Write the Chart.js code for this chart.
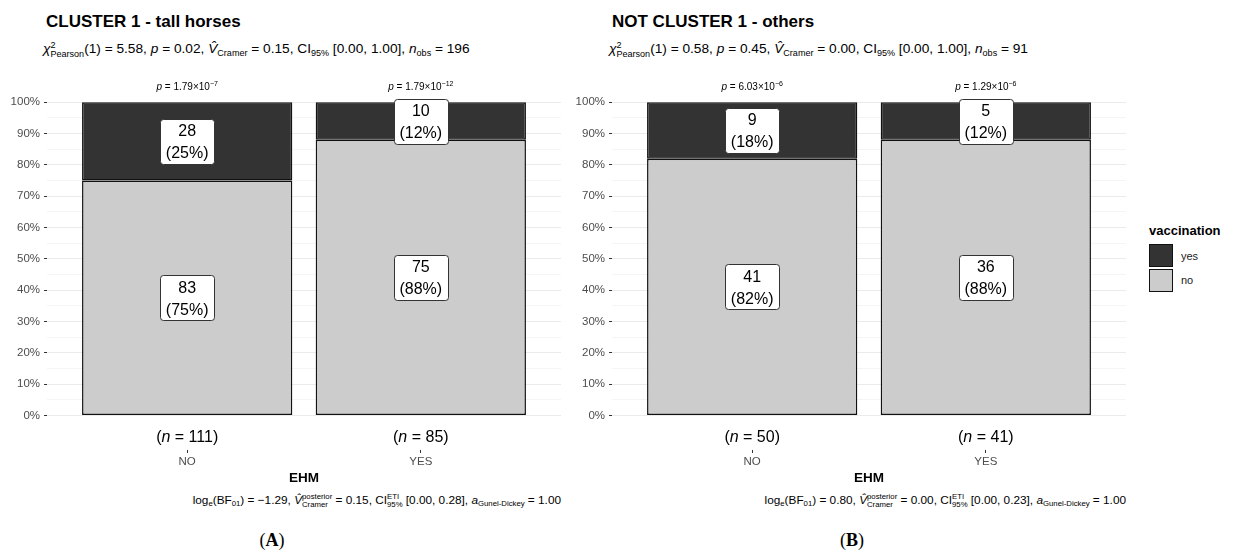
<!DOCTYPE html>
<html>
<head>
<meta charset="utf-8">
<title>Vaccination by EHM</title>
<script src="https://cdn.jsdelivr.net/npm/chart.js@4.4.1/dist/chart.umd.min.js"></script>
<style>
  html, body { margin: 0; padding: 0; background: #fff; }
  body { width: 1234px; height: 552px; position: relative; overflow: hidden;
         font-family: "Liberation Sans", Arial, sans-serif; color: #000; }
  .abs { position: absolute; white-space: nowrap; }
  canvas { position: absolute; }
  .title { font-weight: bold; font-size: 17px; line-height: 20px; }
  .subtitle { font-size: 13.7px; line-height: 16px; }
  .stack { display: inline-block; font-size: 0.66em; line-height: 0.95; vertical-align: -0.35em; text-align: left; }
  .stack span { display: block; }
  .sub { font-size: 0.66em; vertical-align: -0.3em; line-height: 0; }
  .xtitle { font-weight: bold; font-size: 13.5px; line-height: 16px; transform: translateX(-50%); }
  .caption { font-size: 11.8px; line-height: 14px; text-align: right; }
  .tag { font-family: "Liberation Serif", "DejaVu Serif", serif; font-size: 18px; line-height: 20px; transform: translateX(-50%); }
  .legtitle { font-weight: bold; font-size: 13px; line-height: 15px; }
  .legkey { position: absolute; width: 24px; height: 23px; box-sizing: border-box; border: 1.5px solid #111; }
  .leglab { font-size: 11px; line-height: 13px; color: #1a1a1a; }
  i { font-style: italic; }
</style>
</head>
<body>

<!-- Panel A headings -->
<div class="abs title" style="left:46px; top:12px;">CLUSTER 1 - tall horses</div>
<div class="abs subtitle" style="left:43px; top:41px;"><i>χ</i><span class="stack"><span>2</span><span>Pearson</span></span>(1) = 5.58, <i>p</i> = 0.02, <i>V̂</i><span class="sub">Cramer</span> = 0.15, CI<span class="sub">95%</span> [0.00, 1.00], <i>n</i><span class="sub">obs</span> = 196</div>

<!-- Panel B headings -->
<div class="abs title" style="left:612px; top:12px;">NOT CLUSTER 1 - others</div>
<div class="abs subtitle" style="left:609px; top:41px;"><i>χ</i><span class="stack"><span>2</span><span>Pearson</span></span>(1) = 0.58, <i>p</i> = 0.45, <i>V̂</i><span class="sub">Cramer</span> = 0.00, CI<span class="sub">95%</span> [0.00, 1.00], <i>n</i><span class="sub">obs</span> = 91</div>

<canvas id="panelA" width="580" height="420" style="left:0px; top:60px;"></canvas>
<canvas id="panelB" width="580" height="420" style="left:565px; top:60px;"></canvas>

<!-- Axis titles and Bayesian captions -->
<div class="abs xtitle" style="left:304px; top:470px;">EHM</div>
<div class="abs xtitle" style="left:869px; top:470px;">EHM</div>
<div class="abs caption" style="right:673px; top:493px;">log<span class="sub">e</span>(BF<span class="sub">01</span>) = −1.29, <i>V̂</i><span class="stack"><span>posterior</span><span>Cramer</span></span> = 0.15, CI<span class="stack"><span>ETI</span><span>95%</span></span> [0.00, 0.28], <i>a</i><span class="sub">Gunel-Dickey</span> = 1.00</div>
<div class="abs caption" style="right:108px; top:493px;">log<span class="sub">e</span>(BF<span class="sub">01</span>) = 0.80, <i>V̂</i><span class="stack"><span>posterior</span><span>Cramer</span></span> = 0.00, CI<span class="stack"><span>ETI</span><span>95%</span></span> [0.00, 0.23], <i>a</i><span class="sub">Gunel-Dickey</span> = 1.00</div>

<div class="abs tag" style="left:272px; top:530px;">(<b>A</b>)</div>
<div class="abs tag" style="left:852px; top:530px;">(<b>B</b>)</div>

<!-- Legend -->
<div class="abs legtitle" style="left:1149px; top:223px;">vaccination</div>
<div class="legkey" style="left:1149px; top:244px; background:#333333;"></div>
<div class="legkey" style="left:1149px; top:268.5px; background:#cccccc;"></div>
<div class="abs leglab" style="left:1181px; top:250px;">yes</div>
<div class="abs leglab" style="left:1181px; top:274px;">no</div>

<script>
// ---- data -------------------------------------------------------------
const categories = ['NO', 'YES'];
const yTickValues = [0, 10, 20, 30, 40, 50, 60, 70, 80, 90, 100];

// CLUSTER 1 - tall horses
const clusterNoPct = [75, 88];
const clusterYesPct = [25, 12];
const clusterNoCount = [83, 75];
const clusterYesCount = [28, 10];
const clusterTotals = [111, 85];
const clusterPMantissa = ['1.79', '1.79'];
const clusterPExponent = ['−7', '−12'];

// NOT CLUSTER 1 - others
const othersNoPct = [82, 88];
const othersYesPct = [18, 12];
const othersNoCount = [41, 36];
const othersYesCount = [9, 5];
const othersTotals = [50, 41];
const othersPMantissa = ['6.03', '1.29'];
const othersPExponent = ['−6', '−6'];

// ---- drawing helpers ----------------------------------------------------
const FONT = '"Liberation Sans", Arial, sans-serif';

// Draw a run of text pieces [font, text, raise] centred on cx at baseline by.
function drawRuns(ctx, cx, by, runs) {
  let total = 0;
  runs.forEach(r => { ctx.font = r[0]; total += ctx.measureText(r[1]).width; });
  let x = cx - total / 2;
  ctx.textAlign = 'left';
  ctx.textBaseline = 'alphabetic';
  runs.forEach(r => {
    ctx.font = r[0];
    ctx.fillText(r[1], x, by - (r[2] || 0));
    x += ctx.measureText(r[1]).width;
  });
}

function drawLabelBox(ctx, cx, cy, line1, line2) {
  ctx.save();
  ctx.font = '16px ' + FONT;
  const w = Math.round(Math.max(ctx.measureText(line1).width, ctx.measureText(line2).width) + 11);
  const h = 45;
  const x0 = Math.round(cx - w / 2) + 0.5, y0 = Math.round(cy - h / 2) + 0.5;
  ctx.beginPath();
  ctx.roundRect(x0, y0, w, h, 3);
  ctx.fillStyle = '#ffffff';
  ctx.fill();
  ctx.lineWidth = 1;
  ctx.strokeStyle = '#333333';
  ctx.stroke();
  ctx.fillStyle = '#000000';
  ctx.textAlign = 'center';
  ctx.textBaseline = 'alphabetic';
  ctx.fillText(line1, cx, cy - 5);
  ctx.fillText(line2, cx, cy + 17);
  ctx.restore();
}

// Segment labels, one-sample p-values above the bars and group sizes below.
const annotations = {
  id: 'annotations',
  afterDatasetsDraw(chart, args, opts) {
    const ctx = chart.ctx;
    const xs = chart.scales.x, ys = chart.scales.y;
    chart.data.datasets.forEach((ds, di) => {
      chart.getDatasetMeta(di).data.forEach((bar, i) => {
        const cy = (bar.y + bar.base) / 2;
        drawLabelBox(ctx, bar.x, cy, String(ds.counts[i]), '(' + ds.shares[i] + '%)');
      });
    });
    ctx.save();
    ctx.fillStyle = '#000';
    categories.forEach((c, i) => {
      const cx = xs.getPixelForValue(i + 1);
      const py = ys.getPixelForValue(105) + 3.6;
      drawRuns(ctx, cx, py, [
        ['italic 10px ' + FONT, 'p', 0],
        ['10px ' + FONT, ' = ' + opts.pMantissa[i] + '×10', 0],
        ['7px ' + FONT, opts.pExponent[i], 4.5]
      ]);
      const ny = ys.getPixelForValue(-6.5) + 5.7;
      drawRuns(ctx, cx, ny, [
        ['16px ' + FONT, '(', 0],
        ['italic 16px ' + FONT, 'n', 0],
        ['16px ' + FONT, ' = ' + opts.totals[i] + ')', 0]
      ]);
    });
    ctx.restore();
  }
};

function makePanel(id, noPct, yesPct, noCount, yesCount, totals, pMantissa, pExponent) {
  const toPoints = vals => vals.map((v, i) => ({ x: i + 1, y: v }));
  return new Chart(document.getElementById(id), {
    type: 'bar',
    data: {
      datasets: [
        { label: 'no', data: toPoints(noPct), shares: noPct, counts: noCount,
          backgroundColor: '#cccccc', borderColor: '#111111', borderWidth: 1.5,
          borderSkipped: false, barPercentage: 0.9, categoryPercentage: 1, clip: false },
        { label: 'yes', data: toPoints(yesPct), shares: yesPct, counts: yesCount,
          backgroundColor: '#333333', borderColor: '#111111', borderWidth: 1.5,
          borderSkipped: false, barPercentage: 0.9, categoryPercentage: 1, clip: false }
      ]
    },
    options: {
      responsive: false,
      animation: false,
      devicePixelRatio: 1,
      layout: { padding: { top: 10, right: 19, bottom: 0, left: 0 } },
      plugins: {
        legend: { display: false },
        tooltip: { enabled: false },
        annotations: { totals, pMantissa, pExponent }
      },
      scales: {
        x: {
          type: 'linear', min: 0.4, max: 2.6, stacked: true, offset: false,
          afterBuildTicks: s => { s.ticks = categories.map((c, i) => ({ value: i + 1 })); },
          afterFit: s => { s.height = 30; },
          ticks: {
            autoSkip: false, maxRotation: 0, padding: 2, color: '#4d4d4d',
            font: { family: FONT, size: 11.5 },
            callback: v => categories[v - 1] || ''
          },
          grid: { display: true, offset: false, drawOnChartArea: false, drawTicks: true, tickLength: 3,
                  color: 'rgba(0,0,0,0)', tickColor: '#333333' },
          border: { display: false }
        },
        y: {
          type: 'linear', min: -11, max: 110, stacked: true,
          afterBuildTicks: s => {
            const t = [];
            yTickValues.forEach((v, i) => {
              t.push({ value: v });
              if (i < yTickValues.length - 1) t.push({ value: (v + yTickValues[i + 1]) / 2 });
            });
            s.ticks = t;
          },
          afterFit: s => { s.width = 47; },
          ticks: {
            autoSkip: false, padding: 4, color: '#4d4d4d',
            font: { family: FONT, size: 11.5 },
            callback: v => yTickValues.includes(v) ? v + '%' : ''
          },
          grid: {
            tickLength: 3, lineWidth: 1,
            color: c => (c.tick && yTickValues.includes(c.tick.value)) ? '#ebebeb' : '#f5f5f5',
            tickColor: c => (c.tick && yTickValues.includes(c.tick.value)) ? '#333333' : 'rgba(0,0,0,0)'
          },
          border: { display: false }
        }
      }
    },
    plugins: [annotations]
  });
}

makePanel('panelA', clusterNoPct, clusterYesPct, clusterNoCount, clusterYesCount,
          clusterTotals, clusterPMantissa, clusterPExponent);
makePanel('panelB', othersNoPct, othersYesPct, othersNoCount, othersYesCount,
          othersTotals, othersPMantissa, othersPExponent);
</script>
</body>
</html>
